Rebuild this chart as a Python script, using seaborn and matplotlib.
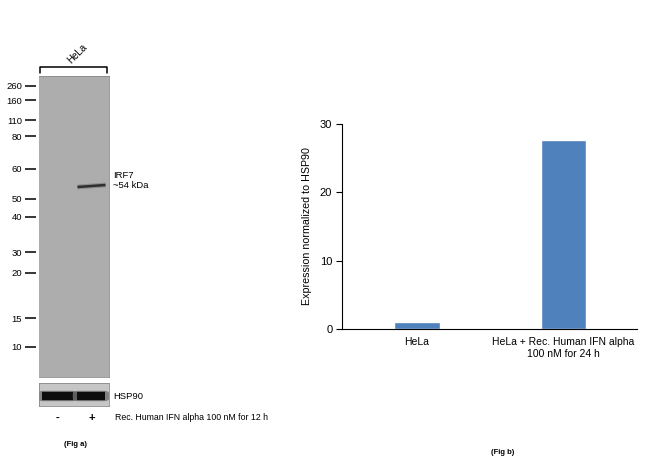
import numpy as np
import matplotlib
matplotlib.use("Agg")
import matplotlib.pyplot as plt
import seaborn as sns
import pandas as pd

sns.set_style("white")
plt.rcParams["font.family"] = ["Liberation Sans", "DejaVu Sans"]
plt.rcParams["text.color"] = "black"
plt.rcParams["axes.labelcolor"] = "black"
plt.rcParams["xtick.color"] = "black"
plt.rcParams["ytick.color"] = "black"

# bar chart data (Fig b)
groups = ["HeLa", "HeLa + Rec. Human IFN alpha\n100 nM for 24 h"]
expression = [1.0, 27.7]

# blot data (Fig a): marker sizes and their migration (distance from top of gel)
marker_kda = [260, 160, 110, 80, 60, 50, 40, 30, 20, 15, 10]
marker_mig = [9.7, 24, 44, 60, 93, 123, 141, 176, 197, 242, 271]
gel_length = 301
irf7_mig = [111, 109]          # left/right end of the tilted band, lane 2
hsp90_lanes = [(0.09, 0.97), (1.09, 1.89)]
lane_signs = ["-", "+"]

W, H = 650, 463
fig = plt.figure(figsize=(6.5, 4.63), dpi=100)


def rect(x0, y0, x1, y1):
    return [x0 / W, 1 - y1 / H, (x1 - x0) / W, (y1 - y0) / H]


def ftext(x, y, s, **kw):
    fig.text(x / W, 1 - y / H, s, **kw)


# ---- Fig a: western blot ----
blot = fig.add_axes(rect(39, 76, 109, 377))
blot.set_facecolor("#adadad")
blot.set_xlim(0, 2)
blot.set_ylim(gel_length, 0)
for s in blot.spines.values():
    s.set_color("#8a8a8a")
    s.set_linewidth(0.6)
blot.spines["left"].set_position(("outward", 2.2))
blot.spines["left"].set_visible(False)
blot.set_xticks([])
blot.set_yticks(marker_mig)
blot.set_yticklabels([str(m) for m in marker_kda])
blot.tick_params(axis="y", length=8, width=1.1, pad=2, color="black", left=True,
                 labelsize=6.8)

# IRF7 band with a soft halo
blot.plot([1.1, 1.9], irf7_mig, color="#555555", lw=3.5, alpha=0.35, solid_capstyle="butt")
blot.plot([1.1, 1.9], irf7_mig, color="#2e2e2e", lw=1.8, solid_capstyle="butt")

# bracket and lane title
blot.plot([0.03, 0.03, 1.94, 1.94], [-3, -9, -9, -3], color="black", lw=1.1, clip_on=False)
blot.text(1.09, -22, "HeLa", rotation=45, fontsize=7, ha="center", va="center")
blot.text(2.11, 100, "IRF7", fontsize=6.8, ha="left", va="center")
blot.text(2.11, 110, "~54 kDa", fontsize=6.8, ha="left", va="center")

hsp = fig.add_axes(rect(39, 383, 109, 406))
hsp.set_facecolor("#c6c6c6")
hsp.set_xlim(0, 2)
hsp.set_ylim(0, 1)
hsp.set_xticks([])
hsp.set_yticks([])
for s in hsp.spines.values():
    s.set_color("#8a8a8a")
    s.set_linewidth(0.6)
for x0, x1 in hsp90_lanes:
    hsp.plot([x0, x1], [0.43, 0.43], color="#333333", lw=7.5, alpha=0.45, solid_capstyle="round")
    hsp.plot([x0, x1], [0.43, 0.43], color="#0d0d0d", lw=6, solid_capstyle="butt")
hsp.text(2.11, 0.43, "HSP90", fontsize=6.8, ha="left", va="center")

for i, s in enumerate(lane_signs):
    ftext(57 + 35 * i, 418, s, fontsize=8, ha="center", va="center", fontweight="bold")
ftext(115, 418, "Rec. Human IFN alpha 100 nM for 12 h", fontsize=6.3, ha="left", va="center")
ftext(75, 445, "(Fig a)", fontsize=5.5, fontweight="bold", ha="center", va="center")

# ---- Fig b: bar chart ----
ax = fig.add_axes(rect(342, 124, 637, 329))
df = pd.DataFrame({"group": groups, "expression": expression})
sns.barplot(data=df, x="group", y="expression", color="#4f81bd", saturation=1,
            width=0.31, ax=ax)
ax.set_xlim(-0.51, 1.5)
ax.set_ylim(0, 30)
ax.set_yticks([0, 10, 20, 30])
ax.set_xlabel("")
ax.set_ylabel("Expression normalized to HSP90", fontsize=7.7, labelpad=6)
ax.tick_params(axis="y", labelsize=8, length=4, width=0.8, left=True, pad=3)
ax.tick_params(axis="x", labelsize=7.5, length=0, pad=6)
sns.despine(ax=ax)
for s in ["left", "bottom"]:
    ax.spines[s].set_color("black")
    ax.spines[s].set_linewidth(0.8)

ftext(503, 453, "(Fig b)", fontsize=5.5, fontweight="bold", ha="center", va="center")

fig.savefig("out.png", dpi=100)
